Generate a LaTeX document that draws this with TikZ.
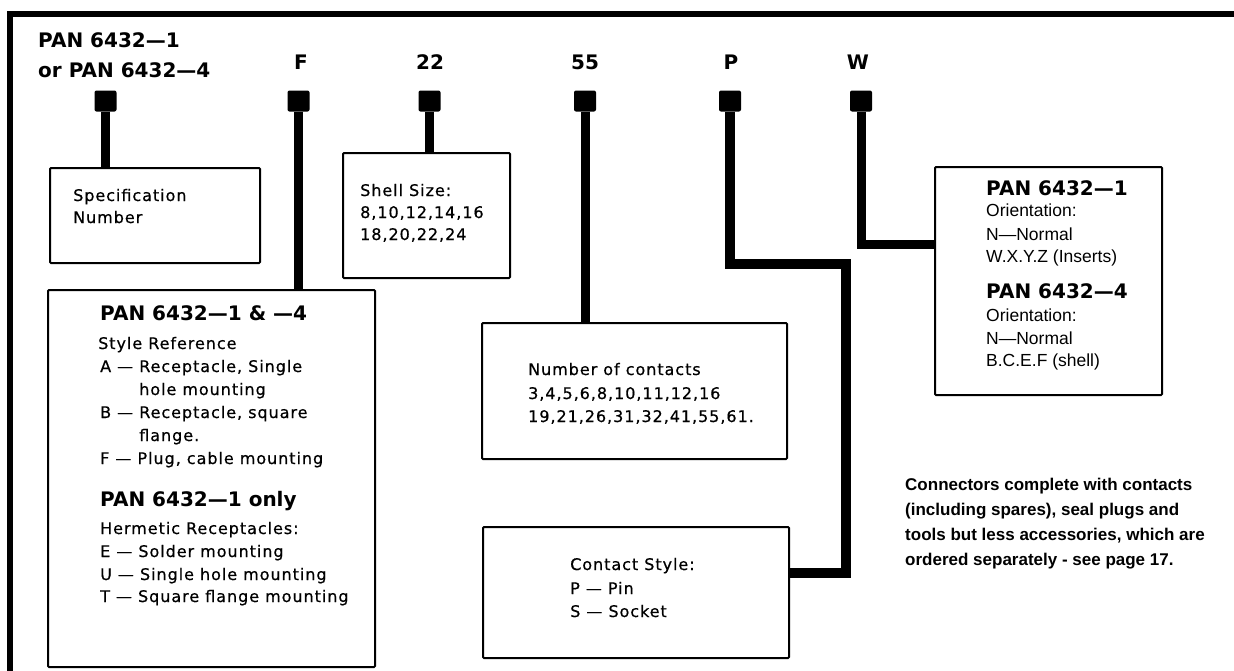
\documentclass[tikz,border=0pt]{standalone}
\usepackage{fontspec}
\newfontfamily\bodyf{DejaVu Sans}[LetterSpace=6,FakeBold=0.6]
\newfontfamily\headf{DejaVu Sans}
\newfontfamily\wboxf{Liberation Sans}
\begin{document}
\begin{tikzpicture}[x=1pt,y=-1pt,
  box/.style={draw, line width=2pt, rounded corners=1pt, inner sep=0pt, outer sep=0pt},
  sq/.style={fill, minimum width=22pt, minimum height=21pt, rounded corners=2pt, inner sep=0pt, outer sep=0pt},
  conn/.style={line width=9pt, line join=miter},
  hd/.style={anchor=base west, inner sep=0pt, font=\headf\bfseries\fontsize{20}{24}\selectfont},
  lbl/.style={anchor=base, inner sep=0pt, font=\headf\bfseries\fontsize{20}{24}\selectfont},
  txt/.style={anchor=base west, inner sep=0pt, font=\bodyf\fontsize{16}{20}\selectfont},
  wtxt/.style={anchor=base west, inner sep=0pt, font=\wboxf\fontsize{17.5}{20}\selectfont},
  note/.style={anchor=base west, inner sep=0pt, font=\wboxf\bfseries\fontsize{17}{20}\selectfont}]
\useasboundingbox (0,0) rectangle (1234,670);
% frame
\draw[line width=5.5pt] (10,680) -- (10,14) -- (1240,14);
% header
\node[hd] (t1) at (38,47) {PAN 6432—1};
\node[hd] (t2) at (38,77) {or PAN 6432—4};
\node[lbl] (lF) at (301,69) {F};
\node[lbl] (l22) at (430,69) {22};
\node[lbl] (l55) at (585,69) {55};
\node[lbl] (lP) at (731,69) {P};
\node[lbl] (lW) at (858,69) {W};
% squares
\node[sq] (s1) at (105.5,101) {};
\node[sq] (s2) at (298.5,101) {};
\node[sq] (s3) at (429.5,101) {};
\node[sq] (s4) at (585,101) {};
\node[sq] (s5) at (730,101) {};
\node[sq] (s6) at (861,101) {};
% boxes
\node[box, minimum width=210pt, minimum height=95pt] (b1) at (155,215.5) {};
\node[box, minimum width=167pt, minimum height=125pt] (b2) at (426.5,215.5) {};
\node[box, minimum width=327pt, minimum height=377pt] (b3) at (211.5,478.5) {};
\node[box, minimum width=305pt, minimum height=136pt] (b4) at (634.5,391) {};
\node[box, minimum width=227pt, minimum height=228pt] (b5) at (1048.5,281) {};
\node[box, minimum width=306pt, minimum height=131pt] (b6) at (636,592.5) {};
% connectors
\draw[conn] (s1.south) -- (s1.south |- b1.north);
\draw[conn] (s2.south) -- (s2.south |- b3.north);
\draw[conn] (s3.south) -- (s3.south |- b2.north);
\draw[conn] (s4.south) -- (s4.south |- b4.north);
\coordinate (pa) at (846,264);
\coordinate (pb) at (846,573);
\draw[conn, line width=10.5pt] (s5.south) |- (pa) -- (pb) -- (pb -| b6.east);
\coordinate (wa) at (861,244);
\draw[conn] (s6.south) -- (wa) -- (wa -| b5.west);
% spec box
\node[txt] (sp1) at (73,201) {Specification};
\node[txt] (sp2) at (73,223) {Number};
% shell box
\node[txt] (sh1) at (360,196) {Shell Size:};
\node[txt] (sh2) at (360,218) {8,10,12,14,16};
\node[txt] (sh3) at (360,240) {18,20,22,24};
% F box
\node[hd] (f0) at (100,320) {PAN 6432—1 \& —4};
\node[txt] (f1) at (98,349) {Style Reference};
\node[txt] (f2) at (100,372) {A — Receptacle, Single};
\node[txt] (f3) at (100,395) {\hphantom{A — }hole mounting};
\node[txt] (f4) at (100,418) {B — Receptacle, square};
\node[txt] (f5) at (100,441) {\hphantom{B — }flange.};
\node[txt] (f6) at (100,464) {F — Plug, cable mounting};
\node[hd] (f7) at (100,506) {PAN 6432—1 only};
\node[txt] (f8) at (100,534) {Hermetic Receptacles:};
\node[txt] (f9) at (100,557) {E — Solder mounting};
\node[txt] (f10) at (100,580) {U — Single hole mounting};
\node[txt] (f11) at (100,602) {T — Square flange mounting};
% numbers box
\node[txt] (n1) at (528,375) {Number of contacts};
\node[txt] (n2) at (528,399) {3,4,5,6,8,10,11,12,16};
\node[txt] (n3) at (528,422) {19,21,26,31,32,41,55,61.};
% contact box
\node[txt] (c1) at (570,570) {Contact Style:};
\node[txt] (c2) at (570,594) {P — Pin};
\node[txt] (c3) at (570,617) {S — Socket};
% W box
\node[hd] (w0) at (986,195) {PAN 6432—1};
\node[wtxt] (w1) at (986,216) {Orientation:};
\node[wtxt] (w2) at (986,240) {N—Normal};
\node[wtxt] (w3) at (986,262) {W.X.Y.Z (Inserts)};
\node[hd] (w4) at (986,298) {PAN 6432—4};
\node[wtxt] (w5) at (986,321) {Orientation:};
\node[wtxt] (w6) at (986,344) {N—Normal};
\node[wtxt] (w7) at (986,366) {B.C.E.F (shell)};
% note
\node[note] (m1) at (905,490) {Connectors complete with contacts};
\node[note] (m2) at (905,515) {(including spares), seal plugs and};
\node[note] (m3) at (905,540) {tools but less accessories, which are};
\node[note] (m4) at (905,565) {ordered separately - see page 17.};
\end{tikzpicture}
\end{document}
